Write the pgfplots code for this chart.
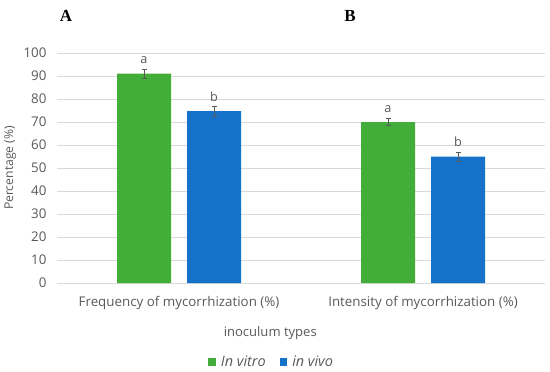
\documentclass[border=0pt]{standalone}
\usepackage{fontspec}
\setmainfont{Open Sans}
\newfontfamily\serifb{Liberation Serif}
\usepackage{pgfplots}
\pgfplotsset{compat=1.18}
\definecolor{cgreen}{RGB}{67,173,58}
\definecolor{cblue}{RGB}{22,113,201}
\definecolor{tgray}{RGB}{89,89,89}
\definecolor{ggray}{RGB}{217,217,217}
\pgfplotstableread{
x y e l
0 91 2.0 a
1 70 1.5 a
}\vitro
\pgfplotstableread{
x y e l
0 74.7 2.2 b
1 55 2.0 b
}\vivo
\begin{document}
\begin{tikzpicture}[x=1bp,y=1bp]
\path[use as bounding box] (0,0) rectangle (550,371);
\begin{axis}[
  at={(57bp,88bp)}, anchor=south west,
  scale only axis, width=488bp, height=230bp,
  xmin=-0.5, xmax=1.5, ymin=0, ymax=100,
  ytick={0,10,...,100},
  xtick={0,1},
  xticklabels={Frequency of mycorrhization (\%),Intensity of mycorrhization (\%)},
  ymajorgrids, grid style={ggray, line width=0.8bp},
  axis line style={draw=none},
  major tick length=0,
  tick label style={font=\fontsize{13.4}{16}\selectfont, text=tgray},
  yticklabel style={xshift=-7bp},
  xticklabel style={yshift=-10bp},
  /pgf/number format/assume math mode=true,
  xlabel={inoculum types},
  xlabel style={at={(axis description cs:0.437,-0.217)}, anchor=center, font=\fontsize{13.1}{16}\selectfont, text=tgray},
  ylabel={Percentage (\%)},
  ylabel style={at={(axis description cs:-0.096,0.5)}, anchor=center, font=\fontsize{12.2}{14}\selectfont, text=tgray},
  ybar, bar width=54bp,
  point meta=explicit symbolic,
  nodes near coords,
  every node near coord/.append style={anchor=base, yshift=10bp, font=\fontsize{12.7}{15}\selectfont, text=tgray},
  legend style={at={(axis description cs:0.44,-0.343)}, anchor=center, draw=none, fill=none,
    legend columns=2, font=\fontsize{14.5}{16}\selectfont\itshape, text=tgray,
    /tikz/every odd column/.append style={column sep=3bp},
    /tikz/every even column/.append style={column sep=12bp}},
  legend image code/.code={\fill[#1] (0bp,-4bp) rectangle (7.5bp,3.5bp);},
]
\addplot[fill=cgreen, draw=none, bar shift=-35bp,
  error bars/.cd, y dir=both, y explicit,
  error bar style={tgray, line width=0.7bp},
  error mark options={rotate=90, mark size=2.5bp, tgray, line width=0.7bp}]
  table[x=x, y=y, y error=e, meta=l] {\vitro};
\addlegendentry{In vitro}
\addplot[fill=cblue, draw=none, bar shift=35bp,
  error bars/.cd, y dir=both, y explicit,
  error bar style={tgray, line width=0.7bp},
  error mark options={rotate=90, mark size=2.5bp, tgray, line width=0.7bp}]
  table[x=x, y=y, y error=e, meta=l] {\vivo};
\addlegendentry{in vivo}
\end{axis}
\node[font=\serifb\bfseries\fontsize{17}{19}\selectfont, text=black] at (66bp,355bp) {A};
\node[font=\serifb\bfseries\fontsize{17}{19}\selectfont, text=black] at (350bp,355bp) {B};
\end{tikzpicture}
\end{document}
